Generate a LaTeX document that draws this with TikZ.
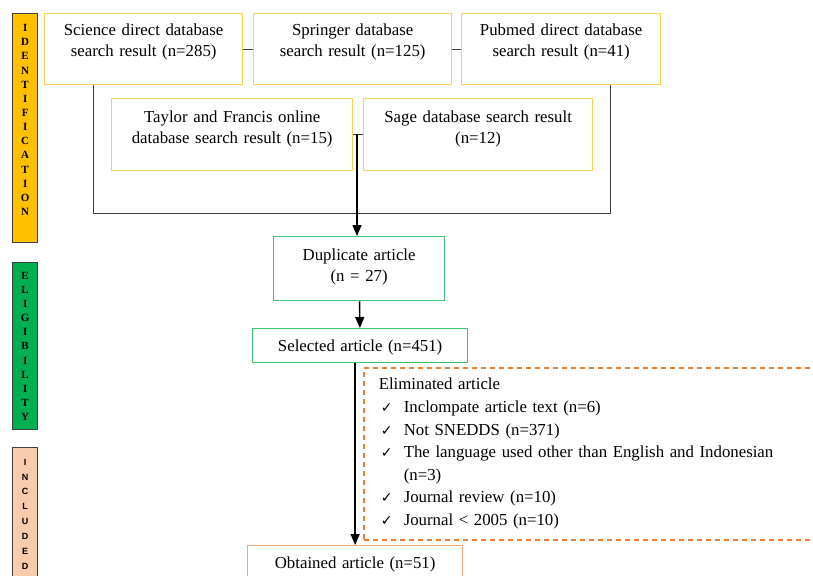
\documentclass[tikz,border=0pt]{standalone}
\usepackage{fontspec}
\setmainfont{Liberation Serif}
\newfontfamily\symfont{DejaVu Sans}
\newfontfamily\barsans{Liberation Sans}
\usetikzlibrary{arrows.meta}

\definecolor{boxyellow}{RGB}{255,208,80}
\definecolor{boxgreen}{RGB}{60,195,110}
\definecolor{boxorange}{RGB}{244,170,120}
\definecolor{dashorange}{RGB}{240,125,50}
\definecolor{idfill}{RGB}{255,192,0}
\definecolor{elfill}{RGB}{0,176,80}
\definecolor{infill}{RGB}{248,203,173}
\definecolor{linegray}{RGB}{64,64,64}

\newcommand{\chk}{\makebox[25pt][l]{\hspace{2pt}{\symfont\fontsize{14}{14}\selectfont ✓}}}

\tikzset{
  box/.style={draw, line width=1.3pt, inner xsep=4pt, inner ysep=0pt, align=center,
    anchor=north west, font=\fontsize{16.8}{20.5}\selectfont},
  ybox/.style={box, draw=boxyellow},
  gbox/.style={box, draw=boxgreen},
  obox/.style={box, draw=boxorange},
  elimbox/.style={draw=dashorange, dash pattern=on 5pt off 4pt, line width=1.6pt,
    anchor=north west, align=left, inner xsep=15pt, inner ysep=0pt,
    font=\fontsize{16.8}{22.6}\selectfont},
  sidebar/.style={draw=linegray, line width=1.3pt, inner xsep=3pt, inner ysep=0pt,
    anchor=north west, align=center, text width=19pt,
    font=\fontsize{11}{14.15}\selectfont\bfseries},
  link/.style={draw=linegray, line width=1pt},
  arrow/.style={draw=black, line width=1.4pt, -{Triangle[length=11pt,width=9pt]}},
}

\begin{document}
\begin{tikzpicture}[x=1pt,y=-1pt]
  \useasboundingbox (0,0) rectangle (813,575);
  \clip (0,0) rectangle (813,575);

  % stage bars
  \begin{scope}[every node/.style=sidebar]
    \node[fill=idfill, text height=18pt, text depth=211pt] (ident) at (12,13)
      {I\\D\\E\\N\\T\\I\\F\\I\\C\\A\\T\\I\\O\\N};
    \node[fill=elfill, text height=16.5pt, text depth=150.5pt] (elig) at (12,262)
      {E\\L\\I\\G\\I\\B\\I\\L\\I\\T\\Y};
    \node[fill=infill, text height=17.5pt, text depth=150pt,
      font=\barsans\fontsize{9}{14.9}\selectfont\bfseries] (incl) at (12,447)
      {I\\N\\C\\L\\U\\D\\E\\D};
  \end{scope}

  % database searches
  \begin{scope}[every node/.style=ybox]
    \node[text width=190pt, text height=22pt, text depth=49pt] (sci) at (44,13)
      {Science direct database\\search result (n=285)};
    \node[text width=190pt, text height=22pt, text depth=49pt] (spr) at (253,13)
      {Springer database\\search result (n=125)};
    \node[text width=191pt, text height=22pt, text depth=49pt] (pub) at (461,13)
      {Pubmed direct database\\search result (n=41)};
    \node[text width=233pt, text height=24pt, text depth=48pt] (tay) at (111,98)
      {Taylor and Francis online\\database search result (n=15)};
    \node[text width=221pt, text height=24pt, text depth=48pt] (sag) at (363,98)
      {Sage database search result\\(n=12)};
  \end{scope}

  % screening
  \node[gbox, text width=163pt, text height=24pt, text depth=40pt] (dup) at (273,236)
    {Duplicate article\\(n = 27)};
  \node[gbox, text width=207pt, text height=23pt, text depth=11pt] (sel) at (252,328)
    {Selected article (n=451)};
  \node[obox, text width=207pt, text height=23pt, text depth=20pt] (obt) at (247,545)
    {Obtained article (n=51)};

  \node[elimbox, text width=440pt, text height=22pt, text depth=150pt] (elim) at (363,367)
    {Eliminated article\\
     \chk Inclompate article text (n=6)\\
     \chk Not SNEDDS (n=371)\\
     \chk The language used other than English and Indonesian\\
     \hspace*{25pt}(n=3)\\
     \chk Journal review (n=10)\\
     \chk Journal < 2005 (n=10)};

  % connectors
  \coordinate (bl) at (93,213);
  \coordinate (br) at (610,213);
  \coordinate (jn) at (357,134);
  \draw[link] (sci) -- (spr);
  \draw[link] (spr) -- (pub);
  \draw[link] (tay) -- (sag);
  \draw[link] (sci.south -| bl) -- (bl) -- (br) -- (pub.south -| br);
  \draw[arrow] (jn) -- (dup.north -| jn);
  \draw[arrow] (dup) -- (sel);
  \draw[arrow] (sel.south -| obt.north) -- (obt);

\end{tikzpicture}
\end{document}
